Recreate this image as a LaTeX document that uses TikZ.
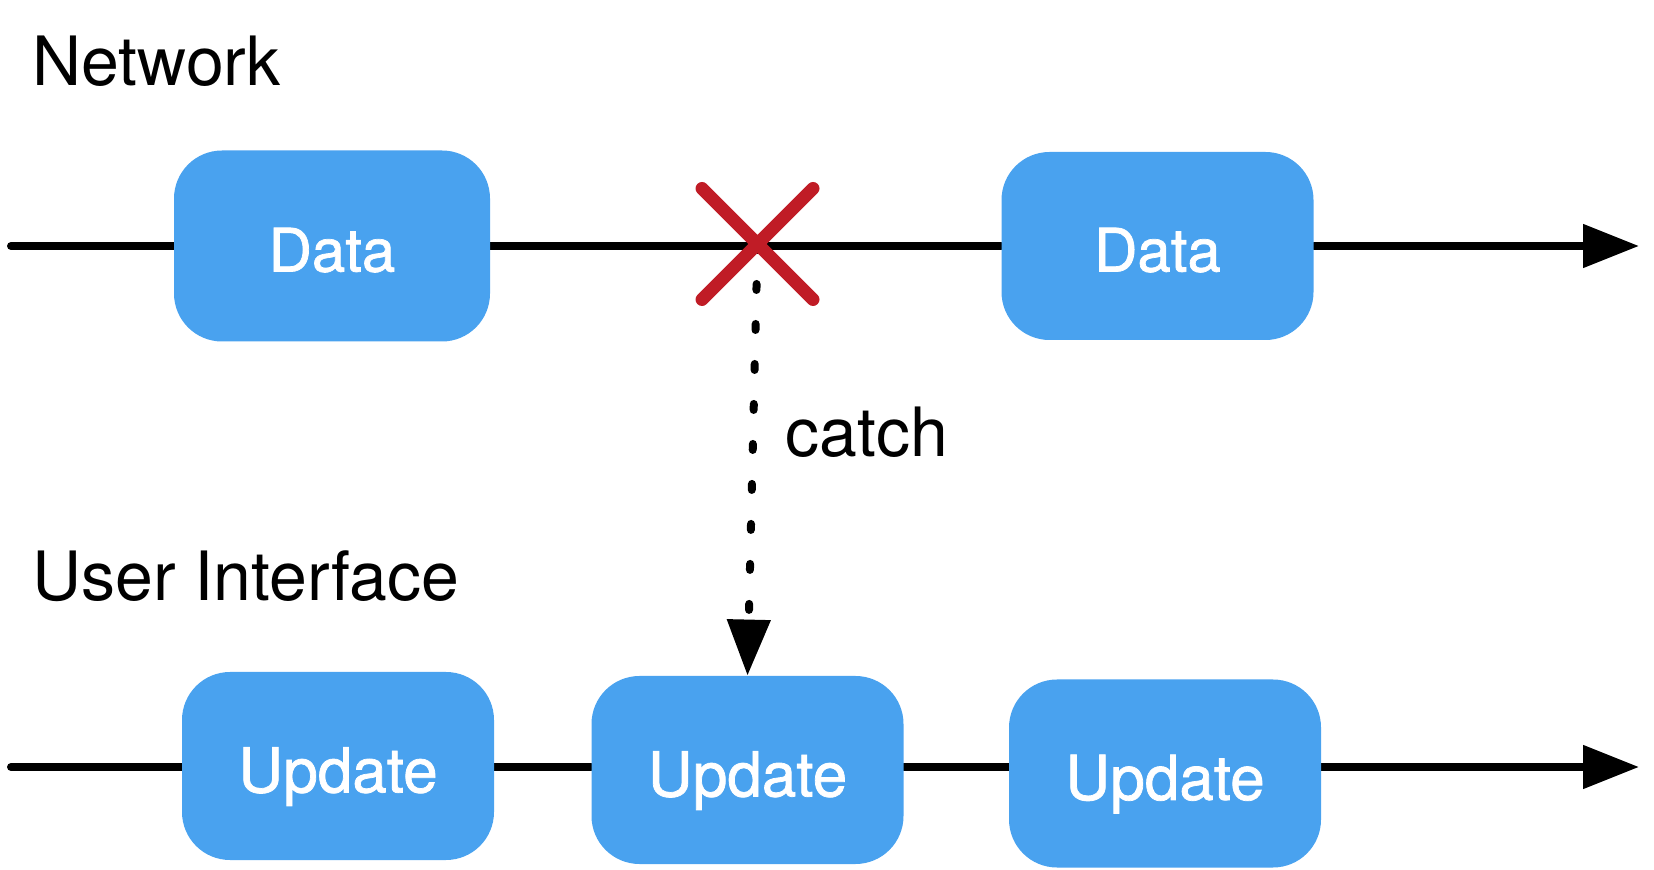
\documentclass[tikz,border=0pt]{standalone}
\usepackage{fontspec}
\setmainfont{TeX Gyre Heros}
\newfontfamily\boxfont{TeX Gyre Heros}[FakeBold=1.2]
\usetikzlibrary{arrows.meta,shapes.misc,backgrounds}
\definecolor{boxblue}{RGB}{73,162,239}
\definecolor{xred}{RGB}{192,28,38}
\begin{document}
\begin{tikzpicture}[x=0.5pt,y=-0.5pt,
  box/.style={rectangle, rounded corners=24pt, fill=boxblue, text=white,
    minimum width=156pt, minimum height=94pt, inner sep=0pt, text depth=0pt},
  datatext/.style={font=\boxfont\fontsize{30}{30}\selectfont, text height=25.6pt},
  updtext/.style={font=\boxfont\fontsize{31}{31}\selectfont, text height=26.4pt},
  lbl/.style={font=\fontsize{34}{34}\selectfont, inner sep=0pt, anchor=base west},
  timeline/.style={line width=4pt, line cap=round},
  arr/.style={-{Triangle[length=28pt,width=21pt]}},
  catchline/.style={line width=4pt, line cap=round, dash pattern=on 3pt off 17pt}
]
\useasboundingbox (0,0) rectangle (1654,870);

% labels
\node[lbl] (net) at (32,86) {Network};
\node[lbl] (ui) at (32,601) {User Interface};
\node[lbl] (catch) at (785,457) {catch};

% boxes
\node[box, datatext, minimum width=158pt, minimum height=95.5pt] (d1) at (332,246) {Data};
\node[box, datatext] (d2) at (1157.5,246) {Data};
\node[box, updtext] (u1) at (338,766) {Update};
\node[box, updtext] (u2) at (747.5,770) {Update};
\node[box, updtext] (u3) at (1165,773.5) {Update};

% timeline ends
\coordinate (ts) at (11,246);
\coordinate (te) at (1639,246);
\coordinate (bs) at (11,767);
\coordinate (be) at (1639,767);

% red cross
\node[cross out, draw=xred, line width=6.5pt, line cap=round,
      minimum size=49pt, inner sep=0pt] (xmark) at (757.5,244) {};

\begin{scope}[on background layer]
  \draw[timeline] (ts) -- (ts -| d1.west);
  \draw[timeline] (ts -| d1.east) -- (ts -| d2.west);
  \draw[timeline, arr] (ts -| d2.east) -- (te);
  \draw[timeline] (bs) -- (bs -| u1.west);
  \draw[timeline] (bs -| u1.east) -- (bs -| u2.west);
  \draw[timeline] (bs -| u2.east) -- (bs -| u3.west);
  \draw[timeline, arr] (bs -| u3.east) -- (be);
  \draw[catchline, arr] (xmark.center) -- (u2.north);
\end{scope}
\end{tikzpicture}
\end{document}
